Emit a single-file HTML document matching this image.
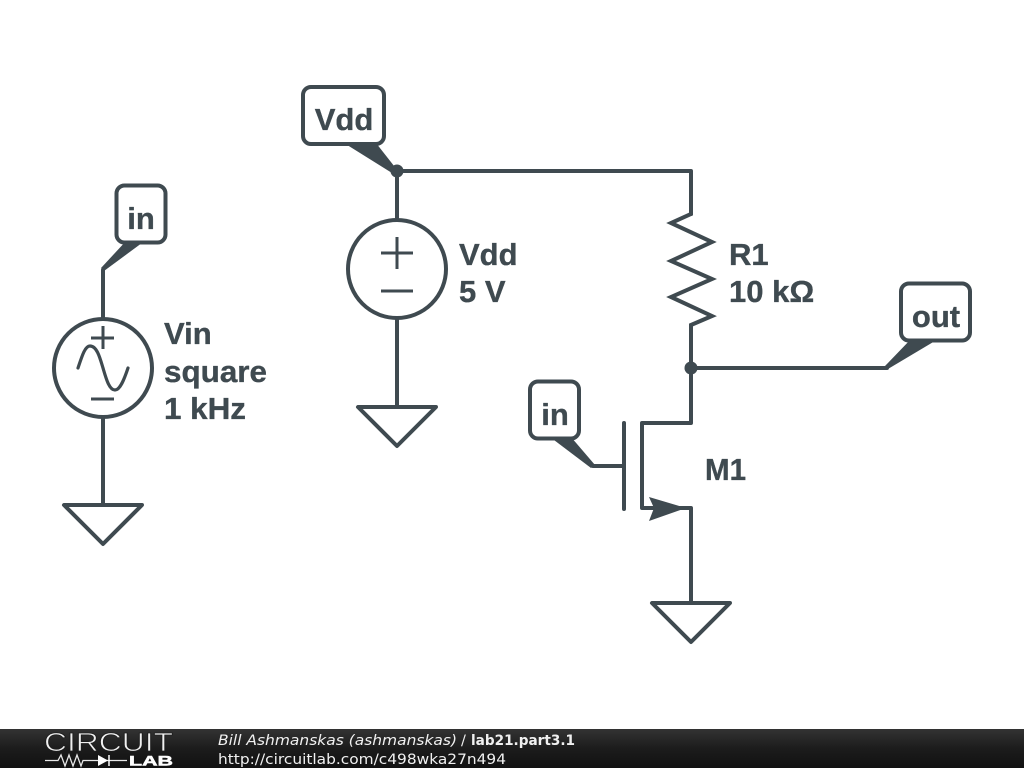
<!DOCTYPE html>
<html>
<head>
<meta charset="utf-8">
<style>
html,body{margin:0;padding:0;background:#fff;width:1024px;height:768px;overflow:hidden}
svg{display:block}
.w{fill:none;stroke:#3f4a50;stroke-width:4;stroke-linecap:round;stroke-linejoin:round}
.n{fill:none;stroke:#3f4a50;stroke-width:3;stroke-linecap:butt;stroke-linejoin:round}
.s{fill:none;stroke:#3f4a50;stroke-width:3.200;stroke-linecap:round;stroke-linejoin:round}
.z{fill:none;stroke:#3f4a50;stroke-width:4;stroke-linecap:butt;stroke-linejoin:miter;stroke-miterlimit:10}
.f{fill:#3f4a50;stroke:none}
.t{font-family:"Liberation Sans",sans-serif;font-weight:bold;font-size:31px;fill:#3f4a50;stroke:#3f4a50;stroke-width:.35}
.m{text-anchor:middle}
.ft{font-family:"DejaVu Sans",sans-serif;font-size:14.5px;fill:#f0f0f0}
</style>
</head>
<body>
<svg width="1024" height="768" viewBox="0 0 1024 768" xmlns="http://www.w3.org/2000/svg">
<defs>
<linearGradient id="g" x1="0" y1="0" x2="0" y2="1"><stop offset="0" stop-color="#333"/><stop offset="0.5" stop-color="#1c1c1c"/><stop offset="1" stop-color="#111"/></linearGradient>
</defs>
<rect width="1024" height="768" fill="#fff"/>

<!-- Vin branch -->
<path class="w" d="M103 270V318M103 418V504"/>
<circle class="w" cx="103" cy="368" r="49"/>
<path class="n" d="M91 338H114M103 326V349M91 399H114"/>
<path class="s" d="M78 368C82 356 85 346 90 346C97 346 100 358 103 368C106 378 109 390 115 390C120 390 124 380 128 368"/>
<path class="w" d="M64 505H142L103 544Z"/>
<path class="f" d="M127 240L146 240L104 271L101 268Z"/>
<rect x="116.500" y="185.500" width="49" height="57" rx="8" fill="#fff" stroke="#3f4a50" stroke-width="4"/>
<text class="t m" x="141" y="229">in</text>
<text class="t" x="164" y="344">Vin</text>
<text class="t" x="164" y="382" textLength="103" lengthAdjust="spacingAndGlyphs">square</text>
<text class="t" x="164" y="419" textLength="82" lengthAdjust="spacingAndGlyphs">1 kHz</text>

<!-- Vdd branch -->
<path class="w" d="M397 171H691V214M397 171V220M397 319V406"/>
<circle class="w" cx="397" cy="269" r="49"/>
<path class="n" d="M381 253H413M397 237V269M381 291H413"/>
<path class="w" d="M358 407H436L397 446Z"/>
<path class="f" d="M344 143L376 143L398 171L392 173Z"/>
<circle class="f" cx="397" cy="171" r="6.500"/>
<rect x="303" y="87" width="81" height="57" rx="8" fill="#fff" stroke="#3f4a50" stroke-width="4"/>
<text class="t m" x="344" y="130">Vdd</text>
<text class="t" x="459" y="265">Vdd</text>
<text class="t" x="459" y="302">5 V</text>

<!-- Resistor -->
<path class="z" d="M691 212V214L671 223L712 242L671 261L712 279L671 297L712 316L691 325V368"/>
<text class="t" x="729" y="265">R1</text>
<text class="t" x="729" y="302">10 kΩ</text>

<!-- Out -->
<path class="w" d="M691 368H887"/>
<circle class="f" cx="691" cy="368" r="6.500"/>
<path class="f" d="M912 338L940 338L888 369L885 366Z"/>
<rect x="901" y="283.500" width="69" height="57" rx="8" fill="#fff" stroke="#3f4a50" stroke-width="4"/>
<text class="t m" x="936" y="327">out</text>

<!-- MOSFET -->
<path class="w" d="M691 368V423H642V508H691V603M593 466H624M624 423V509"/>
<path class="f" d="M649 497L686 508L649 521L654 508Z"/>
<path class="f" d="M550 437L571 437L595 465L591 468Z"/>
<rect x="530" y="381.500" width="49" height="57" rx="8" fill="#fff" stroke="#3f4a50" stroke-width="4"/>
<text class="t m" x="555" y="425">in</text>
<text class="t" x="705" y="480" textLength="41" lengthAdjust="spacingAndGlyphs">M1</text>
<path class="w" d="M652 603H730L691 642Z"/>

<!-- Footer -->
<rect x="0" y="729" width="1024" height="39" fill="url(#g)"/>
<text x="44" y="751" font-family="Liberation Sans,sans-serif" font-size="26" fill="#f0f0f0" stroke="#1e1e1e" stroke-width=".8" textLength="129" lengthAdjust="spacingAndGlyphs">CIRCUIT</text>
<path d="M45 760.500H58L61 755L65 766L69 755L73 766L77 755L81 766L83 760.500H127" fill="none" stroke="#e8e8e8" stroke-width="1.300"/>
<path d="M98 755L108 760.500L98 766Z" fill="#fff"/>
<path d="M109 755V766" stroke="#fff" stroke-width="1.500"/>
<text x="129" y="765.500" font-family="Liberation Sans,sans-serif" font-size="13.500" font-weight="bold" fill="#fff" stroke="#fff" stroke-width=".5" textLength="44" lengthAdjust="spacingAndGlyphs">LAB</text>
<text class="ft" x="218" y="745" font-style="italic" textLength="239" lengthAdjust="spacingAndGlyphs">Bill Ashmanskas (ashmanskas)</text>
<text class="ft" x="461" y="745">/</text>
<text class="ft" x="471" y="745" font-weight="bold" textLength="104" lengthAdjust="spacingAndGlyphs">lab21.part3.1</text>
<text class="ft" x="218" y="764" textLength="288" lengthAdjust="spacingAndGlyphs">http://circuitlab.com/c498wka27n494</text>
</svg>
</body>
</html>
